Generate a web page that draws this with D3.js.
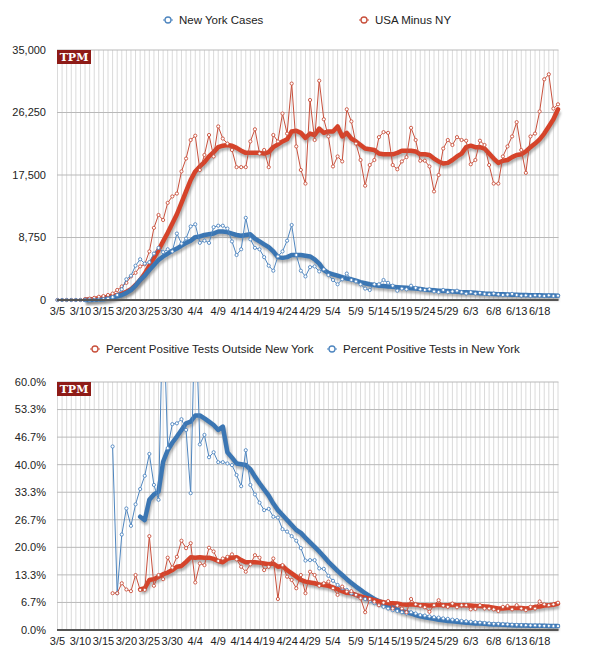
<!DOCTYPE html>
<html>
<head>
<meta charset="utf-8">
<script src="https://cdn.jsdelivr.net/npm/d3@7"></script>
<style>
  html, body { margin: 0; padding: 0; background: #fff; }
  svg { display: block; font-family: "Liberation Sans", Arial, sans-serif; }
</style>
</head>
<body>
<svg id="chart" width="596" height="664"></svg>
<script>
// --- data ---
const tickLabels = ['3/5','3/10','3/15','3/20','3/25','3/30','4/4','4/9','4/14','4/19','4/24','4/29',
  '5/4','5/9','5/14','5/19','5/24','5/29','6/3','6/8','6/13','6/18'];

// daily new cases, 3/5 .. 6/22
const nyCases = [0,0,0,0,0,0,0,10,20,50,
  100,200,400,700,1500,2900,3400,4800,5700,5100,
  5300,6500,7300,6700,7100,6800,9300,7900,8600,10300,
  10600,8000,8300,8000,10200,10400,10400,10000,8200,6300,
  7100,11500,8500,7300,7100,6000,4800,4100,6100,6800,
  8300,10500,6300,4100,3300,4600,4700,4000,4300,3500,
  2800,2200,2900,3700,2800,2600,2200,1600,1400,2200,
  2200,2800,2400,2000,1300,1600,1500,2000,1700,1500,
  1400,1500,1200,1100,1400,1100,1200,1300,1100,900,
  1100,900,1000,850,800,900,800,700,750,850,
  700,600,650,560,650,600,560,650,560,600];
const nyCasesAvg = [null,null,null,null,null,null,0,10,30,60,
  110,200,350,500,700,1000,1400,2000,2800,3400,
  4200,4900,5600,6100,6500,6900,7200,7600,8000,8300,
  8800,8900,9100,9200,9300,9600,9600,9500,9300,9100,
  9000,9100,9200,8600,8200,7800,7400,6800,6000,5900,
  6000,6300,6300,6300,6200,6100,5700,5100,4200,3800,
  3600,3400,3200,3000,2900,2700,2500,2350,2200,2100,
  2000,1950,1900,1850,1800,1750,1700,1650,1600,1550,
  1450,1400,1350,1300,1250,1250,1200,1150,1100,1100,
  1050,1000,950,900,870,850,820,800,780,750,
  720,700,690,680,660,650,640,630,620,610];
const usCases = [0,0,0,0,0,0,100,200,300,450,
  550,700,900,1400,1900,2400,3300,3800,4700,5000,
  6800,10100,11900,11200,13600,14500,14900,18000,19800,22400,
  23000,18200,20300,23100,20100,24300,22600,21900,21000,18600,
  18600,18600,22200,23900,20500,21000,18600,23100,22200,26100,
  23300,30300,21500,18200,16300,28000,22400,30700,25300,22900,
  18700,20100,19400,26700,25000,21900,19600,16000,18900,19600,
  22800,23500,23400,18900,18300,19400,20000,24100,22400,19500,
  19500,18700,15200,17500,21200,22400,21700,22800,22400,22300,
  19000,19600,22300,21700,18900,16300,16300,20100,21500,22900,
  24900,21000,17800,22900,23300,26400,30900,31600,26800,27400];
const usCasesAvg = [null,null,null,null,null,null,50,100,150,230,
  320,420,550,700,900,1150,1500,2100,2800,3700,
  4800,5900,7000,8200,9400,10700,12000,13600,15200,16800,
  18000,18700,19300,20100,20700,21400,21600,21700,21600,21300,
  20900,20600,20600,20600,20600,20500,20700,21400,21800,22200,
  22500,23600,23700,23400,22700,23300,23100,24000,23400,23600,
  23600,24300,22900,23400,22600,22200,21700,21200,21100,21000,
  20500,20400,20400,20400,20600,20900,20900,20900,20800,20400,
  20400,20300,19800,19400,19100,19200,19600,20100,20500,21400,
  21600,21400,21400,21200,20500,19800,19200,19500,19600,20000,
  20300,20400,20800,21400,21900,22500,23300,24300,25300,26700];

// percent positive tests, 3/5 .. 6/22
const outsidePct = [null,null,null,null,null,null,null,null,null,null,
  null,null,8.9,8.9,11.3,9.8,9.4,13.3,9.7,9.7,
  22.7,10.7,13.3,12.3,17.5,15.1,17.7,21.6,19.8,21.0,
  11.5,16.1,15.7,19.9,19.0,16.7,17.3,17.7,18.3,17.1,
  15.3,14.1,15.9,18.1,17.5,14.5,15.3,17.3,7.5,15.7,
  12.9,12.1,10.1,13.3,8.9,14.1,13.3,10.7,11.3,11.7,
  10.1,8.5,10.5,9.3,9.4,8.5,7.7,4.3,7.5,6.9,
  6.0,6.6,7.0,5.2,5.9,5.2,4.3,7.5,6.2,5.9,
  5.5,4.4,6.0,7.2,5.9,5.6,6.4,5.5,6.0,6.0,
  5.0,5.1,6.0,5.2,5.2,5.0,4.6,5.6,5.8,5.0,
  6.0,5.2,4.8,5.6,5.2,6.9,6.2,6.0,6.2,6.6];
const outsidePctAvg = [null,null,null,null,null,null,null,null,null,null,
  null,null,null,null,null,null,null,null,9.8,10.1,
  12.1,12.3,12.9,13.5,13.9,14.5,15.3,15.5,16.5,17.6,
  17.5,17.6,17.5,17.5,17.2,16.7,16.4,17.2,17.5,17.6,
  16.9,16.4,16.4,16.4,16.3,16.1,15.9,16.1,15.3,15.5,
  14.5,13.7,12.9,12.1,11.7,11.5,11.3,11.0,10.9,10.7,
  10.3,9.9,9.4,9.0,8.9,8.5,8.1,7.8,7.5,7.2,
  6.9,6.7,6.5,6.45,6.4,6.2,6.1,6.2,6.1,6.0,
  6.0,5.9,6.0,6.1,6.0,6.0,6.1,6.0,6.0,6.0,
  5.9,5.8,5.8,5.7,5.6,5.4,5.2,5.2,5.3,5.3,
  5.4,5.3,5.2,5.3,5.6,5.7,5.9,6.0,6.1,6.4];
const nyPct = [null,null,null,null,null,null,null,null,null,null,
  null,null,44.4,8.9,23.1,29.4,25.2,30.4,34.1,37.3,
  42.6,35.1,31.5,80,44.0,49.8,50.0,51.0,48.4,33.1,
  80,44.9,47.2,41.8,43.0,40.6,40.6,40.3,39.9,37.5,
  34.8,43.5,35.1,32.8,30.8,29.0,29.3,27.4,27.2,24.4,
  23.8,22.7,21.6,19.8,16.8,16.9,16.9,14.9,14.8,13.1,
  11.9,10.9,10.1,9.7,8.9,8.5,7.8,7.5,7.0,6.5,
  6.0,5.6,5.2,4.8,4.6,4.3,4.0,4.3,4.0,3.6,
  3.5,3.3,3.1,3.0,2.8,2.7,2.5,2.4,2.2,2.1,
  2.0,1.9,1.8,1.7,1.6,1.5,1.5,1.4,1.35,1.3,
  1.25,1.2,1.15,1.1,1.1,1.05,1.0,1.0,0.95,0.95];
const nyPctAvg = [null,null,null,null,null,null,null,null,null,null,
  null,null,null,null,null,null,null,null,27.4,26.6,
  31.5,32.8,33.5,40.7,43.5,45.3,46.8,48.4,50.0,50.4,
  51.9,51.9,51.2,50.4,49.6,48.4,49.2,43.0,41.7,40.3,
  40.1,39.9,38.9,37.1,35.5,34.0,32.5,30.6,29.0,27.8,
  26.6,25.4,24.2,23.5,22.3,21.2,20.1,19.0,17.8,16.5,
  15.4,14.3,13.3,12.3,11.4,10.5,9.7,8.9,8.2,7.5,
  7.0,6.5,6.0,5.5,5.0,4.6,4.3,4.0,3.6,3.3,
  3.1,2.9,2.7,2.5,2.35,2.2,2.1,2.0,1.85,1.75,
  1.7,1.6,1.55,1.5,1.4,1.35,1.3,1.25,1.2,1.15,
  1.1,1.1,1.08,1.05,1.05,1.02,1.0,0.98,0.97,0.97];

const pctTicks = [0, 6.667, 13.333, 20, 26.667, 33.333, 40, 46.667, 53.333, 60];
const caseTicks = [0, 8750, 17500, 26250, 35000];

// --- setup ---
const RED = '#d5432a', RED_THIN = '#c8503c', BLUE = '#3b76b3', BLUE_THIN = '#4f86bf';
const fmtDay = d3.timeFormat('%-m/%-d');
const days = d3.timeDay.range(new Date(2020, 2, 5), new Date(2020, 5, 23)).map(fmtDay);

const svg = d3.select('#chart');
const defs = svg.append('defs');
defs.append('filter').attr('id', 'blur').attr('x', '-5%').attr('y', '-5%').attr('width', '110%').attr('height', '110%')
  .append('feGaussianBlur').attr('stdDeviation', 1.2);

const x = d3.scalePoint().domain(days).range([57.5, 558]);

function drawChart(o) {
  const y = d3.scaleLinear().domain([0, o.max]).range([o.bottom, o.top]);
  const g = svg.append('g');

  // daily vertical grid
  g.append('g').selectAll('line').data(days).enter().append('line')
    .attr('x1', d => x(d)).attr('x2', d => x(d)).attr('y1', o.top).attr('y2', o.bottom)
    .attr('stroke', '#dadada').attr('stroke-width', 1);

  // horizontal grid
  g.append('g').selectAll('line').data(o.ticks.slice(1)).enter().append('line')
    .attr('x1', 57).attr('x2', 558.5).attr('y1', d => y(d)).attr('y2', d => y(d))
    .attr('stroke', '#b9b9b9').attr('stroke-width', 1);

  // y labels
  g.append('g').selectAll('text').data(o.ticks).enter().append('text')
    .attr('x', 46).attr('y', d => y(d)).attr('dy', '0.35em').attr('text-anchor', 'end')
    .attr('font-size', 11).attr('fill', '#222').text(o.fmt);

  // x labels
  g.append('g').selectAll('text').data(tickLabels).enter().append('text')
    .attr('x', d => x(d)).attr('y', o.bottom + 15).attr('text-anchor', 'middle')
    .attr('font-size', 11).attr('fill', '#222').text(d => d);

  // TPM badge
  g.append('rect').attr('x', 57).attr('y', o.top).attr('width', 34).attr('height', 14).attr('fill', '#8e1b17');
  g.append('text').attr('x', 74).attr('y', o.top + 11).attr('text-anchor', 'middle')
    .attr('font-family', '"DejaVu Serif", "Liberation Serif", serif').attr('font-weight', 'bold')
    .attr('font-size', 11).attr('fill', '#fff').text('TPM');

  const clipId = 'clip' + o.top;
  defs.append('clipPath').attr('id', clipId).append('rect')
    .attr('x', 50).attr('y', o.top).attr('width', 515).attr('height', o.bottom - o.top + 6);
  const plot = g.append('g').attr('clip-path', `url(#${clipId})`);

  const line = d3.line().defined(d => d.v != null).x(d => x(d.k)).y(d => y(d.v));
  const pts = arr => arr.map((v, i) => ({ k: days[i], v }));

  // thick moving averages with soft shadow
  o.thick.forEach(s => {
    plot.append('path').datum(pts(s.values)).attr('d', line)
      .attr('transform', 'translate(1,2.5)').attr('fill', 'none')
      .attr('stroke', '#777').attr('stroke-opacity', 0.55).attr('stroke-width', 5)
      .attr('stroke-linejoin', 'round').attr('filter', 'url(#blur)');
  });
  o.thick.forEach(s => {
    plot.append('path').datum(pts(s.values)).attr('d', line).attr('fill', 'none')
      .attr('stroke', s.color).attr('stroke-width', 4.5).attr('stroke-linejoin', 'round').attr('stroke-linecap', 'round');
  });

  // thin daily series with hollow markers
  o.thin.forEach(s => {
    const p = pts(s.values);
    plot.append('path').datum(p).attr('d', line).attr('fill', 'none')
      .attr('stroke', s.color).attr('stroke-width', 1);
    plot.append('g').selectAll('circle').data(p.filter(d => d.v != null)).enter().append('circle')
      .attr('cx', d => x(d.k)).attr('cy', d => y(d.v)).attr('r', 1.6)
      .attr('fill', '#fff').attr('stroke', s.color).attr('stroke-width', 0.9);
  });

  // zero baseline
  g.append('line').attr('x1', 57).attr('x2', 558.5).attr('y1', o.bottom).attr('y2', o.bottom)
    .attr('stroke', '#555').attr('stroke-width', 2);

  // legend
  o.legend.forEach(l => {
    const lg = g.append('g');
    lg.append('line').attr('x1', l.x - 5).attr('x2', l.x + 5).attr('y1', l.y).attr('y2', l.y)
      .attr('stroke', l.color).attr('stroke-width', 1);
    lg.append('circle').attr('cx', l.x).attr('cy', l.y).attr('r', 3)
      .attr('fill', '#fff').attr('stroke', l.color).attr('stroke-width', 1.3);
    lg.append('text').attr('x', l.x + 11).attr('y', l.y).attr('dy', '0.35em')
      .attr('font-size', 11.5).attr('fill', '#222').text(l.label);
  });
}

drawChart({
  top: 50, bottom: 300, max: 35000, ticks: caseTicks, fmt: d3.format(','),
  thick: [{ values: usCasesAvg, color: RED }, { values: nyCasesAvg, color: BLUE }],
  thin: [{ values: usCases, color: RED_THIN }, { values: nyCases, color: BLUE_THIN }],
  legend: [
    { x: 168, y: 20, color: BLUE_THIN, label: 'New York Cases' },
    { x: 364, y: 20, color: RED_THIN, label: 'USA Minus NY' }
  ]
});

drawChart({
  top: 382, bottom: 630, max: 60, ticks: pctTicks, fmt: d => d.toFixed(1) + '%',
  thick: [{ values: nyPctAvg, color: BLUE }, { values: outsidePctAvg, color: RED }],
  thin: [{ values: nyPct, color: BLUE_THIN }, { values: outsidePct, color: RED_THIN }],
  legend: [
    { x: 95, y: 349, color: RED_THIN, label: 'Percent Positive Tests Outside New York' },
    { x: 332, y: 349, color: BLUE_THIN, label: 'Percent Positive Tests in New York' }
  ]
});
</script>
</body>
</html>
